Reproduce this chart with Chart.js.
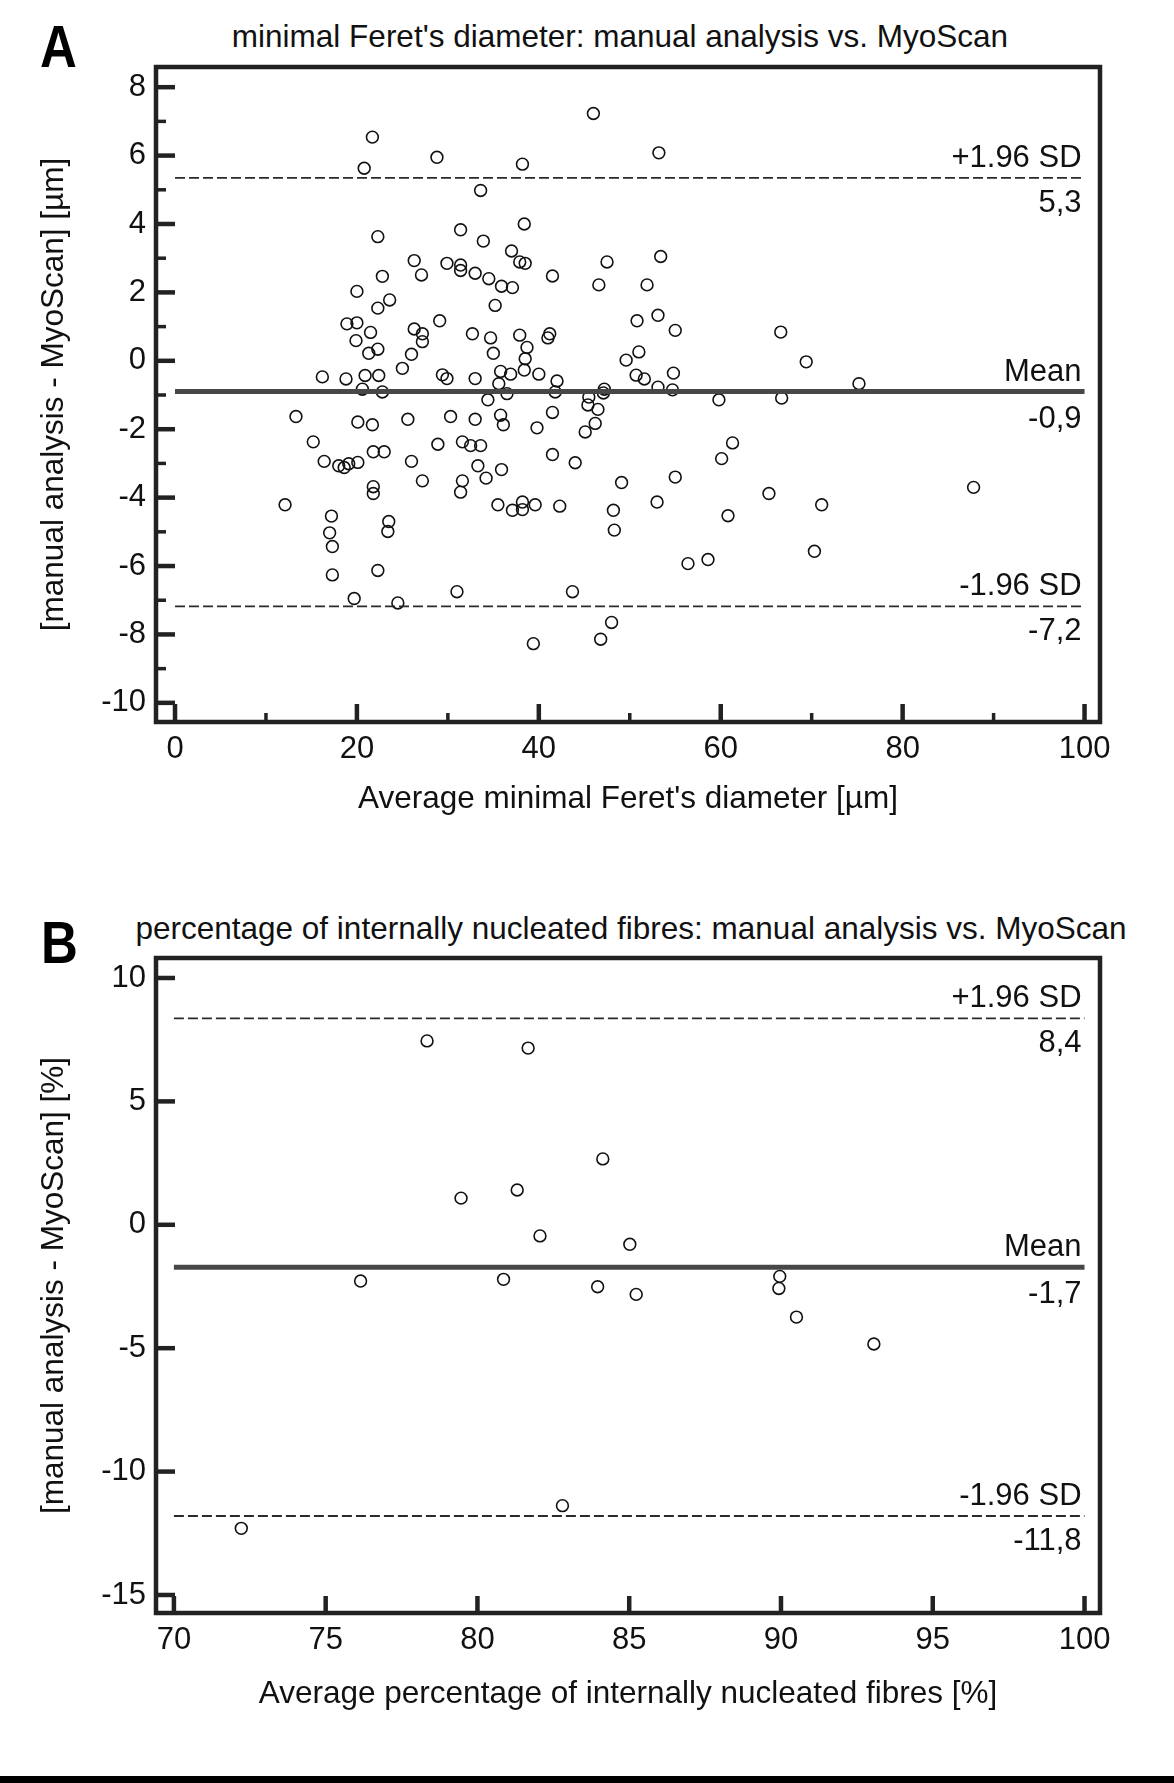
<!DOCTYPE html>
<html>
<head>
<meta charset="utf-8">
<script src="https://cdn.jsdelivr.net/npm/chart.js@4.4.1/dist/chart.umd.min.js"></script>
<style>
html,body{margin:0;padding:0;background:#fff;}
#page{position:relative;width:1174px;height:1783px;overflow:hidden;background:#fff;font-family:"Liberation Sans",Arial,sans-serif;}
canvas{position:absolute;left:0;}
.letter{position:absolute;font-weight:bold;font-size:60px;line-height:1;transform-origin:left top;transform:scaleX(0.85);color:#000;}
.head{position:absolute;font-size:31.5px;line-height:1;white-space:nowrap;transform:translateX(-50%);color:#111;}
#bar{position:absolute;left:0;top:1776px;width:1174px;height:7px;background:#000;}
</style>
</head>
<body>
<div id="page">
  <div class="letter" style="left:40px;top:17px;">A</div>
  <div class="head" id="headA" style="left:620px;top:21px;"></div>
  <canvas id="cA" width="1174" height="860" style="top:0px;"></canvas>
  <div class="letter" style="left:41px;top:913px;">B</div>
  <div class="head" id="headB" style="left:631px;top:913px;"></div>
  <canvas id="cB" width="1174" height="910" style="top:860px;"></canvas>
  <div id="bar"></div>
</div>
<script>
// ---------- Panel A data ----------
const titleA = "minimal Feret's diameter: manual analysis vs. MyoScan";
const xTitleA = "Average minimal Feret's diameter [µm]";
const yTitleA = "[manual analysis - MyoScan] [µm]";
const xTicksA = [0, 20, 40, 60, 80, 100];
const xMinorA = [10, 30, 50, 70, 90];
const yTicksA = [8, 6, 4, 2, 0, -2, -4, -6, -8, -10];
const yMinorA = [7, 5, 3, 1, -1, -3, -5, -7, -9];
const refNamesA = ['+1.96 SD', 'Mean', '-1.96 SD'];
const refValuesA = [5.35, -0.9, -7.18];
const refTextA = ['5,3', '-0,9', '-7,2'];
const feretAvg = [
  21.7,20.8,22.3,22.8,20.0,23.6,22.3,18.9,20.0,21.5,
  19.9,22.3,21.3,25.0,16.2,18.8,20.9,22.4,20.6,22.8,
  13.3,20.1,21.7,15.2,21.8,23.0,16.4,18.0,18.6,19.1,
  20.1,21.8,21.8,12.1,17.2,23.5,23.4,17.0,17.3,22.3,
  17.3,19.7,24.5,46.0,28.8,38.2,33.6,38.4,31.4,33.9,
  37.0,26.3,29.9,31.4,31.4,37.9,38.5,47.5,27.1,33.0,
  34.5,41.5,35.9,37.1,46.6,35.2,29.1,26.3,27.2,27.2,
  26.0,32.7,34.7,35.0,37.9,41.2,41.0,38.7,38.5,38.4,
  29.4,29.9,33.0,35.8,36.9,35.6,40.0,42.0,49.6,36.5,
  41.8,47.2,47.1,34.4,45.5,25.6,30.3,33.0,35.8,36.1,
  41.5,45.4,46.5,39.8,46.2,45.1,28.9,31.6,32.5,33.6,
  41.5,44.0,26.0,33.3,35.9,27.2,31.6,34.2,31.4,49.1,
  35.5,37.1,38.2,38.2,39.6,42.3,48.2,48.3,31.0,43.7,
  48.0,46.8,39.4,53.2,53.4,51.9,50.8,53.1,55.0,66.6,
  51.0,69.4,50.7,51.6,54.8,53.1,54.7,75.2,59.8,66.7,
  61.3,60.1,55.0,53.0,65.3,71.1,60.8,58.6,56.4,70.3,
  87.8
];
const feretDiff = [
  6.54,5.63,3.63,2.47,2.03,1.78,1.54,1.08,1.11,0.83,
  0.59,0.34,0.22,-0.22,-0.47,-0.53,-0.43,-0.43,-0.83,-0.91,
  -1.63,-1.79,-1.87,-2.37,-2.66,-2.66,-2.94,-3.07,-3.12,-3.01,
  -2.97,-3.68,-3.88,-4.21,-4.54,-4.70,-4.99,-5.03,-5.43,-6.13,
  -6.26,-6.95,-7.08,7.23,5.95,5.75,4.98,4.00,3.83,3.50,
  3.21,2.93,2.85,2.80,2.64,2.89,2.85,2.89,2.51,2.56,
  2.40,2.48,2.18,2.14,2.22,1.62,1.17,0.93,0.79,0.56,
  0.19,0.79,0.67,0.22,0.75,0.79,0.67,0.39,0.06,-0.27,
  -0.41,-0.52,-0.52,-0.31,-0.39,-0.67,-0.39,-0.59,0.02,-0.96,
  -0.91,-0.83,-0.94,-1.14,-1.06,-1.71,-1.63,-1.71,-1.59,-1.87,
  -1.51,-1.29,-1.42,-1.96,-1.83,-2.08,-2.44,-2.37,-2.48,-2.48,
  -2.74,-2.98,-2.94,-3.07,-3.18,-3.51,-3.51,-3.43,-3.84,-3.56,
  -4.21,-4.37,-4.13,-4.35,-4.21,-4.25,-4.37,-4.95,-6.75,-6.75,
  -7.65,-8.14,-8.27,6.08,3.05,2.22,1.17,1.33,0.89,0.84,
  0.26,-0.03,-0.42,-0.53,-0.36,-0.77,-0.85,-0.67,-1.14,-1.09,
  -2.40,-2.86,-3.40,-4.13,-3.88,-4.21,-4.53,-5.81,-5.93,-5.57,
  -3.70
];

// ---------- Panel B data ----------
const titleB = "percentage of internally nucleated fibres: manual analysis vs. MyoScan";
const xTitleB = "Average percentage of internally nucleated fibres [%]";
const yTitleB = "[manual analysis - MyoScan] [%]";
const xTicksB = [70, 75, 80, 85, 90, 95, 100];
const xMinorB = [];
const yTicksB = [10, 5, 0, -5, -10, -15];
const yMinorB = [];
const refNamesB = ['+1.96 SD', 'Mean', '-1.96 SD'];
const refValuesB = [8.36, -1.72, -11.8];
const refTextB = ['8,4', '-1,7', '-11,8'];
const inucAvg = [78.34, 81.67, 84.13, 79.46, 81.31, 82.06, 85.02, 76.15, 80.86, 83.96, 85.23, 82.80, 72.22, 89.96, 89.93, 90.51, 93.06];
const inucDiff = [7.45, 7.16, 2.67, 1.08, 1.41, -0.45, -0.79, -2.28, -2.21, -2.51, -2.82, -11.38, -12.30, -2.09, -2.58, -3.74, -4.83];

document.getElementById('headA').textContent = titleA;
document.getElementById('headB').textContent = titleB;

const FAMILY = '"Liberation Sans", Arial, sans-serif';

const decoPlugin = {
  id: 'deco',
  afterDraw(chart, args, o) {
    const ctx = chart.ctx, ca = chart.chartArea;
    const xs = chart.scales.x, ys = chart.scales.y;
    ctx.save();
    ctx.strokeStyle = '#222';
    ctx.lineCap = 'butt';
    const drawY = (vals, len, w) => {
      ctx.lineWidth = w;
      vals.forEach(v => {
        const y = ys.getPixelForValue(v);
        ctx.beginPath(); ctx.moveTo(ca.left, y); ctx.lineTo(ca.left + len, y); ctx.stroke();
      });
    };
    const drawX = (vals, len, w) => {
      ctx.lineWidth = w;
      vals.forEach(v => {
        const x = xs.getPixelForValue(v);
        ctx.beginPath(); ctx.moveTo(x, ca.bottom); ctx.lineTo(x, ca.bottom - len); ctx.stroke();
      });
    };
    drawY(o.yMajor, 19, 4.5);
    drawY(o.yMinor, 10, 3.5);
    drawX(o.xMajor, o.xLen, 4.5);
    drawX(o.xMinor, 9, 3.5);
    ctx.lineWidth = 4.5;
    ctx.strokeRect(ca.left, ca.top, ca.right - ca.left, ca.bottom - ca.top);
    ctx.font = '31px ' + FAMILY;
    ctx.fillStyle = '#111';
    ctx.textAlign = 'right';
    ctx.textBaseline = 'alphabetic';
    const xr = xs.getPixelForValue(o.xEnd) - 3;
    o.names.forEach((n, i) => {
      const y = ys.getPixelForValue(o.values[i]);
      ctx.fillText(n, xr, y - 11);
      ctx.fillText(o.texts[i], xr, y + (i === 1 ? 36 : 34));
    });
    ctx.restore();
  }
};

function makePanel(id, p) {
  const xStart = p.xTicks[0], xEnd = p.xTicks[p.xTicks.length - 1];
  const refSets = p.refValues.map((v, i) => ({
    type: 'scatter',
    data: [{x: xStart, y: v}, {x: xEnd, y: v}],
    showLine: true,
    pointRadius: 0,
    borderColor: i === 1 ? '#474747' : '#2a2a2a',
    borderWidth: i === 1 ? 5 : 1.8,
    borderDash: i === 1 ? [] : [10, 4],
    fill: false
  }));
  const pts = p.xs.map((x, i) => ({x: x, y: p.ys[i]}));
  return new Chart(document.getElementById(id), {
    type: 'scatter',
    data: {
      datasets: refSets.concat([{
        data: pts,
        pointRadius: 5.9,
        pointBorderWidth: 1.6,
        borderColor: '#111',
        backgroundColor: 'rgba(0,0,0,0)',
        pointBackgroundColor: 'rgba(0,0,0,0)'
      }])
    },
    options: {
      responsive: false,
      animation: false,
      devicePixelRatio: 1,
      events: [],
      layout: { padding: { left: 0, right: 74, top: p.top, bottom: 0 } },
      plugins: {
        legend: { display: false },
        tooltip: { enabled: false },
        deco: {
          yMajor: p.yTicks, yMinor: p.yMinor, xMajor: p.xTicks, xMinor: p.xMinor,
          xLen: p.xLen, xEnd: xEnd,
          names: p.refNames, values: p.refValues, texts: p.refText
        }
      },
      scales: {
        x: {
          type: 'linear', min: p.xMin, max: p.xMax,
          afterBuildTicks: s => { s.ticks = p.xTicks.map(v => ({value: v})); },
          afterFit: s => { s.height = p.xH; },
          grid: { display: false, drawTicks: false },
          border: { display: false },
          ticks: { autoSkip: false, maxRotation: 0, padding: p.xPad, color: '#111',
                   font: { size: 31, family: FAMILY }, callback: v => String(v) },
          title: { display: true, text: p.xTitle, color: '#111',
                   font: { size: 31.5, family: FAMILY }, padding: { top: 0, bottom: p.xTitlePad } }
        },
        y: {
          type: 'linear', min: p.yMin, max: p.yMax,
          afterBuildTicks: s => { s.ticks = p.yTicks.map(v => ({value: v})); },
          afterFit: s => { s.width = 156; },
          grid: { display: false, drawTicks: false },
          border: { display: false },
          ticks: { autoSkip: false, padding: 10, color: '#111',
                   font: { size: 31, family: FAMILY }, callback: v => String(v) },
          title: { display: true, text: p.yTitle, color: '#111',
                   font: { size: 31.5, family: FAMILY }, padding: { top: 35, bottom: 0 } }
        }
      }
    },
    plugins: [decoPlugin]
  });
}

makePanel('cA', {
  xs: feretAvg, ys: feretDiff, xTicks: xTicksA, xMinor: xMinorA, yTicks: yTicksA, yMinor: yMinorA,
  refNames: refNamesA, refValues: refValuesA, refText: refTextA,
  xTitle: xTitleA, yTitle: yTitleA,
  xMin: -2.09, xMax: 101.7, yMin: -10.56, yMax: 8.59,
  top: 67, xH: 138, xPad: 9, xTitlePad: 42, xLen: 18
});
makePanel('cB', {
  xs: inucAvg, ys: inucDiff, xTicks: xTicksB, xMinor: xMinorB, yTicks: yTicksB, yMinor: yMinorB,
  refNames: refNamesB, refValues: refValuesB, refText: refTextB,
  xTitle: xTitleB, yTitle: yTitleB,
  xMin: 69.41, xMax: 100.51, yMin: -15.73, yMax: 10.81,
  top: 98, xH: 157, xPad: 9, xTitlePad: 57, xLen: 17
});
</script>
</body>
</html>
